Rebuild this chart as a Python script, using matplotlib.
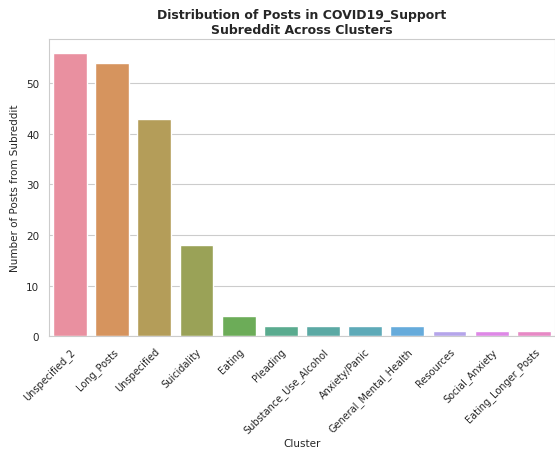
import matplotlib
matplotlib.use('Agg')
import matplotlib.pyplot as plt
import seaborn as sns
import pandas as pd

clusters = ['Unspecified_2', 'Long_Posts', 'Unspecified', 'Suicidality', 'Eating',
            'Pleading', 'Substance_Use_Alcohol', 'Anxiety/Panic', 'General_Mental_Health',
            'Resources', 'Social_Anxiety', 'Eating_Longer_Posts']
counts = [56, 54, 43, 18, 4, 2, 2, 2, 2, 1, 1, 1]

df = pd.DataFrame({'Cluster': clusters, 'Count': counts})

sns.set_style('whitegrid')
plt.rcParams['font.family'] = ['DejaVu Sans']

# husl palette, slightly lightened to match the reference
pal = [tuple(0.88 * c + 0.12 for c in col) for col in sns.color_palette('husl', len(clusters))]

fig = plt.figure(figsize=(5.55, 4.52), dpi=100)
ax = fig.add_axes([0.088, 0.254, 0.912, 0.658])

sns.barplot(data=df, x='Cluster', y='Count', hue='Cluster',
            palette=pal, legend=False, ax=ax)

ax.set_title('Distribution of Posts in COVID19_Support\nSubreddit Across Clusters',
             fontsize=9, fontweight='bold', pad=4)
ax.set_xlabel('Cluster', fontsize=7.5, labelpad=2)
ax.set_ylabel('Number of Posts from Subreddit', fontsize=7.5)
ax.tick_params(axis='y', labelsize=7.5)
plt.setp(ax.get_xticklabels(), rotation=45, ha='right', rotation_mode='anchor', fontsize=7)
ax.set_yticks([0, 10, 20, 30, 40, 50])

fig.savefig('out.png', dpi=100)
